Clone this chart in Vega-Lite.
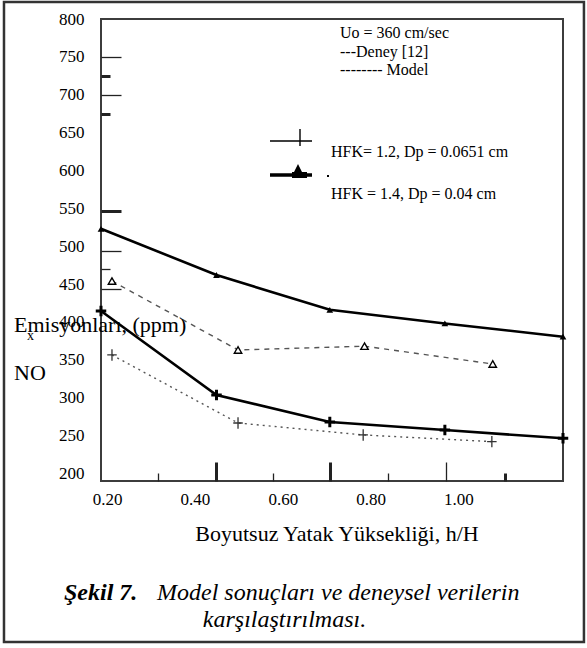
{
  "$schema": "https://vega.github.io/schema/vega-lite/v6.json",
  "width": 462,
  "height": 462,
  "autosize": {"type": "none"},
  "padding": {"left": 101, "top": 19, "right": 24, "bottom": 167},
  "background": "white",
  "config": {
    "font": "Liberation Serif",
    "view": {"stroke": "#3c3c3c", "strokeWidth": 2},
    "axis": {"labelFont": "Liberation Serif", "titleFont": "Liberation Serif", "labelColor": "black", "titleColor": "black", "grid": false, "labelOverlap": false},
    "legend": {"labelFont": "Liberation Serif"},
    "text": {"font": "Liberation Serif", "color": "black"}
  },
  "data": {
    "values": [
      {"h": 0.186, "nox": 523, "type": "Model", "hfk": 1.4, "grp": "HFK = 1.4, Dp = 0.04 cm"},
      {"h": 0.449, "nox": 462, "type": "Model", "hfk": 1.4, "grp": "HFK = 1.4, Dp = 0.04 cm"},
      {"h": 0.707, "nox": 416, "type": "Model", "hfk": 1.4, "grp": "HFK = 1.4, Dp = 0.04 cm"},
      {"h": 0.969, "nox": 398, "type": "Model", "hfk": 1.4, "grp": "HFK = 1.4, Dp = 0.04 cm"},
      {"h": 1.238, "nox": 380.5, "type": "Model", "hfk": 1.4, "grp": "HFK = 1.4, Dp = 0.04 cm"},
      {"h": 0.186, "nox": 414.5, "type": "Model", "hfk": 1.2, "grp": "HFK= 1.2, Dp = 0.0651 cm"},
      {"h": 0.449, "nox": 303.6, "type": "Model", "hfk": 1.2, "grp": "HFK= 1.2, Dp = 0.0651 cm"},
      {"h": 0.707, "nox": 268, "type": "Model", "hfk": 1.2, "grp": "HFK= 1.2, Dp = 0.0651 cm"},
      {"h": 0.969, "nox": 257.3, "type": "Model", "hfk": 1.2, "grp": "HFK= 1.2, Dp = 0.0651 cm"},
      {"h": 1.238, "nox": 246.4, "type": "Model", "hfk": 1.2, "grp": "HFK= 1.2, Dp = 0.0651 cm"},
      {"h": 0.211, "nox": 454, "type": "Deney", "hfk": 1.4, "grp": "HFK = 1.4, Dp = 0.04 cm"},
      {"h": 0.498, "nox": 363, "type": "Deney", "hfk": 1.4, "grp": "HFK = 1.4, Dp = 0.04 cm"},
      {"h": 0.786, "nox": 368, "type": "Deney", "hfk": 1.4, "grp": "HFK = 1.4, Dp = 0.04 cm"},
      {"h": 1.078, "nox": 344.5, "type": "Deney", "hfk": 1.4, "grp": "HFK = 1.4, Dp = 0.04 cm"},
      {"h": 0.211, "nox": 356.4, "type": "Deney", "hfk": 1.2, "grp": "HFK= 1.2, Dp = 0.0651 cm"},
      {"h": 0.498, "nox": 266.6, "type": "Deney", "hfk": 1.2, "grp": "HFK= 1.2, Dp = 0.0651 cm"},
      {"h": 0.783, "nox": 250.8, "type": "Deney", "hfk": 1.2, "grp": "HFK= 1.2, Dp = 0.0651 cm"},
      {"h": 1.076, "nox": 242, "type": "Deney", "hfk": 1.2, "grp": "HFK= 1.2, Dp = 0.0651 cm"}
    ]
  },
  "resolve": {"axis": {"x": "independent", "y": "independent"}},
  "layer": [
    {
      "layer": [
        {
          "transform": [{"filter": "datum.type == 'Model'"}],
          "mark": {"type": "line", "color": "black", "strokeWidth": 2.6},
          "encoding": {
            "x": {
              "field": "h", "type": "quantitative",
              "scale": {"domain": [0.186, 1.238], "nice": false, "zero": false},
              "axis": {
                "orient": "bottom",
                "values": [0.2, 0.4, 0.6, 0.8, 1.0],
                "format": ".2f",
                "ticks": false, "tickSize": 0, "domain": false, "grid": false,
                "labelFontSize": 17, "labelPadding": 10, "labelFlush": false, "labelOverlap": false,
                "title": "Boyutsuz Yatak Yüksekliği, h/H",
                "titleFontSize": 22, "titleFontWeight": "normal",
                "titleX": 235.5, "titleY": 59, "titleAlign": "center", "titleBaseline": "alphabetic"
              }
            },
            "y": {
              "field": "nox", "type": "quantitative",
              "scale": {"domain": [190, 800], "nice": false, "zero": false},
              "axis": {
                "orient": "left",
                "values": [200, 250, 300, 350, 400, 450, 500, 550, 600, 650, 700, 750, 800],
                "tickCount": 13,
                "ticks": false, "tickSize": 0, "domain": false, "grid": false,
                "labelFontSize": 17, "labelPadding": 17, "labelOverlap": false, "labelSeparation": 0, "labelFlush": false,
                "title": null
              }
            },
            "detail": {"field": "grp"}
          }
        },
        {
          "transform": [{"filter": "datum.type == 'Deney' && datum.hfk == 1.4"}],
          "mark": {"type": "line", "color": "#555555", "strokeWidth": 1.4, "strokeDash": [5, 5]},
          "encoding": {
            "x": {"field": "h", "type": "quantitative"},
            "y": {"field": "nox", "type": "quantitative"}
          }
        },
        {
          "transform": [{"filter": "datum.type == 'Deney' && datum.hfk == 1.2"}],
          "mark": {"type": "line", "color": "#555555", "strokeWidth": 1.4, "strokeDash": [2, 4]},
          "encoding": {
            "x": {"field": "h", "type": "quantitative"},
            "y": {"field": "nox", "type": "quantitative"}
          }
        },
        {
          "transform": [{"filter": "datum.type == 'Model' && datum.hfk == 1.4"}],
          "mark": {"type": "point", "shape": "triangle-up", "filled": true, "color": "black", "size": 45, "opacity": 1},
          "encoding": {
            "x": {"field": "h", "type": "quantitative"},
            "y": {"field": "nox", "type": "quantitative"}
          }
        },
        {
          "transform": [{"filter": "datum.type == 'Model' && datum.hfk == 1.2"}],
          "mark": {"type": "point", "shape": "M-1,0H1M0,-1V1", "filled": false, "stroke": "black", "strokeWidth": 3, "size": 110, "opacity": 1},
          "encoding": {
            "x": {"field": "h", "type": "quantitative"},
            "y": {"field": "nox", "type": "quantitative"}
          }
        },
        {
          "transform": [{"filter": "datum.type == 'Deney' && datum.hfk == 1.4"}],
          "mark": {"type": "point", "shape": "triangle-up", "filled": true, "fill": "white", "stroke": "black", "strokeWidth": 1.4, "size": 55, "opacity": 1},
          "encoding": {
            "x": {"field": "h", "type": "quantitative"},
            "y": {"field": "nox", "type": "quantitative"}
          }
        },
        {
          "transform": [{"filter": "datum.type == 'Deney' && datum.hfk == 1.2"}],
          "mark": {"type": "point", "shape": "M-1,0H1M0,-1.2V1.2", "filled": false, "stroke": "#333333", "strokeWidth": 1.3, "size": 90, "opacity": 1},
          "encoding": {
            "x": {"field": "h", "type": "quantitative"},
            "y": {"field": "nox", "type": "quantitative"}
          }
        },
        {
          "mark": {"type": "point", "filled": true, "color": "black", "opacity": 0},
          "encoding": {
            "x": {"field": "h", "type": "quantitative"},
            "y": {"field": "nox", "type": "quantitative"},
            "shape": {
              "field": "grp", "type": "nominal",
              "scale": {
                "domain": ["HFK= 1.2, Dp = 0.0651 cm", "HFK = 1.4, Dp = 0.04 cm"],
                "range": [
                  "M-2.1,-1.18H2.1V-1.03H-2.1ZM0.83,-2.3H0.97V-0.6H0.83Z",
                  "M-2.1,-2.07H2.1V-1.73H-2.1ZM0.1,-1.8L0.7,-3L1.3,-1.8ZM0.1,-2.2H1.6V-1.6H0.1ZM3.6,-1.9H3.8V-1.7H3.6Z"
                ]
              },
              "legend": {
                "orient": "none", "legendX": 180, "legendY": 123,
                "title": null, "padding": 0,
                "symbolSize": 400, "symbolFillColor": "black", "symbolStrokeWidth": 0, "symbolOpacity": 1,
                "labelFontSize": 16, "labelColor": "black", "labelOffset": 30, "rowPadding": 4, "labelLimit": 400
              }
            }
          }
        },
        {
          "data": {"values": [{}]},
          "mark": {"type": "rect", "filled": false, "stroke": "#333333", "strokeWidth": 2.5},
          "encoding": {
            "x": {"datum": -0.0349, "type": "quantitative"},
            "x2": {"datum": 1.2857},
            "y": {"datum": 822.4, "type": "quantitative"},
            "y2": {"datum": -22.5}
          }
        },
        {
          "data": {"values": [{}]},
          "mark": {"type": "text", "align": "left", "baseline": "alphabetic", "fontSize": 16, "lineHeight": 18.5,
                   "text": ["Uo = 360 cm/sec", "\u00a0---Deney [12]", "-------- Model"]},
          "encoding": {
            "x": {"datum": 0.7302, "type": "quantitative"},
            "y": {"datum": 774.3, "type": "quantitative"}
          }
        },
        {
          "data": {"values": [{}]},
          "mark": {"type": "text", "align": "left", "baseline": "alphabetic", "fontSize": 22, "text": "Emisyonları, (ppm)"},
          "encoding": {
            "x": {"datum": -0.0121, "type": "quantitative"},
            "y": {"datum": 386.7, "type": "quantitative"}
          }
        },
        {
          "data": {"values": [{}]},
          "mark": {"type": "text", "align": "left", "baseline": "alphabetic", "fontSize": 22, "text": "NO"},
          "encoding": {
            "x": {"datum": -0.0121, "type": "quantitative"},
            "y": {"datum": 323.4, "type": "quantitative"}
          }
        },
        {
          "data": {"values": [{}]},
          "mark": {"type": "text", "align": "left", "baseline": "alphabetic", "fontSize": 14, "text": "x"},
          "encoding": {
            "x": {"datum": 0.0175, "type": "quantitative"},
            "y": {"datum": 376.2, "type": "quantitative"}
          }
        },
        {
          "data": {"values": [{}]},
          "mark": {"type": "text", "align": "left", "baseline": "alphabetic", "fontSize": 24, "fontStyle": "italic", "fontWeight": "bold", "text": "Şekil 7."},
          "encoding": {
            "x": {"datum": 0.1018, "type": "quantitative"},
            "y": {"datum": 32.9, "type": "quantitative"}
          }
        },
        {
          "data": {"values": [{}]},
          "mark": {"type": "text", "align": "left", "baseline": "alphabetic", "fontSize": 24, "fontStyle": "italic", "text": "Model sonuçları ve deneysel verilerin"},
          "encoding": {
            "x": {"datum": 0.3135, "type": "quantitative"},
            "y": {"datum": 32.9, "type": "quantitative"}
          }
        },
        {
          "data": {"values": [{}]},
          "mark": {"type": "text", "align": "center", "baseline": "alphabetic", "fontSize": 24, "fontStyle": "italic", "text": "karşılaştırılması."},
          "encoding": {
            "x": {"datum": 0.6038, "type": "quantitative"},
            "y": {"datum": -2.7, "type": "quantitative"}
          }
        }
      ]
    },
    {
      "mark": {"type": "point", "opacity": 0},
      "encoding": {
        "x": {
          "field": "h", "type": "quantitative",
          "scale": {"domain": [0.186, 1.238], "nice": false, "zero": false},
          "axis": {
            "orient": "bottom",
            "values": [0.3165, 0.448, 0.578, 0.707, 0.839, 0.9715, 1.106],
            "labels": false, "domain": false, "grid": false, "title": null,
            "tickColor": "#222222",
            "tickSize": {"condition": {"test": "datum.value == 0.448 || datum.value == 0.707 || datum.value == 0.9715", "value": -19}, "value": -8},
            "tickWidth": {"condition": {"test": "datum.value == 0.448 || datum.value == 0.707 || datum.value == 1.106", "value": 3}, "value": 1.3}
          }
        },
        "y": {
          "field": "nox", "type": "quantitative",
          "scale": {"domain": [190, 800], "nice": false, "zero": false},
          "axis": {
            "orient": "left",
            "values": [443, 470, 494, 546, 675, 700, 725, 750],
            "labels": false, "domain": false, "grid": false, "title": null,
            "tickColor": "#222222",
            "tickSize": {"condition": {"test": "datum.value == 470 || datum.value == 675 || datum.value == 725", "value": -9}, "value": -20},
            "tickWidth": {"condition": {"test": "datum.value == 546 || datum.value == 675 || datum.value == 725", "value": 3}, "value": 1.3}
          }
        }
      }
    }
  ]
}
